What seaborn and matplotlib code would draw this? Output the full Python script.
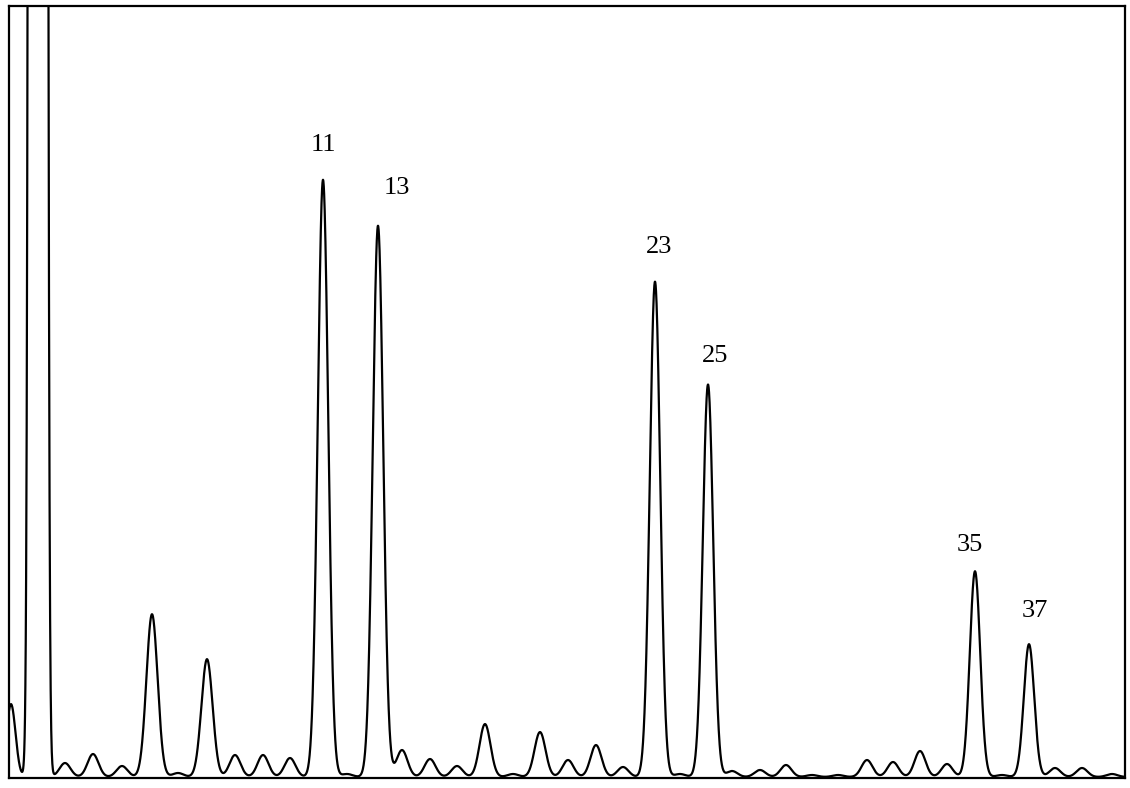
import pandas as pd
import seaborn as sns
import matplotlib.pyplot as plt
import numpy as np

# Peak table (position in chart units, height above baseline)
peak_pos = [11, 38, 65, 93, 122, 152, 178, 207, 235, 263, 290, 323, 347, 378,
            402, 430, 457, 485, 513, 540, 568, 596, 623, 655, 680, 708, 732, 760,
            786, 812, 838, 867, 893, 920, 947, 975, 1002, 1029, 1055, 1082, 1112]
peak_height = [73, 90000, 14, 23, 11, 163, 4, 118, 22, 22, 19, 598, 3, 552,
               27, 18, 11, 53, 3, 45, 17, 32, 10, 496, 3, 393, 6, 7,
               12, 2, 2, 17, 15, 26, 13, 206, 2, 133, 9, 9, 3]
peak_width = [4.5, 3.4, 5.5, 5.5, 5.5, 5.6, 5.5, 5.6, 5.5, 5.5, 5.5, 5.2, 5.5, 5.2,
              5.5, 5.5, 5.5, 5.5, 5.5, 5.5, 5.5, 5.5, 5.5, 5.2, 5.5, 5.2, 5.5, 5.5,
              5.5, 5.5, 5.5, 5.5, 5.5, 5.5, 5.5, 5.2, 5.5, 5.2, 5.5, 5.5, 5.5]

# labelled peaks: number and where its text sits
label_text = ['11', '13', '23', '25', '35', '37']
label_x = [323, 397, 659, 715, 970, 1035]
label_y = [627, 584, 525, 416, 226, 160]

x = np.linspace(9, 1125, 6000)
signal = np.zeros_like(x)
for p, h, w in zip(peak_pos, peak_height, peak_width):
    signal += h * np.exp(-0.5 * ((x - p) / w) ** 2)

df = pd.DataFrame({'time': x, 'signal': signal})

sns.set_style('white')
plt.rcParams['font.family'] = ['Liberation Serif', 'DejaVu Serif']

fig = plt.figure(figsize=(11.3, 7.88), dpi=100)
ax = fig.add_axes([9 / 1130, 10 / 788, 1116 / 1130, 772 / 788])

sns.lineplot(data=df, x='time', y='signal', ax=ax, color='black', linewidth=1.6)

for t, lx, ly in zip(label_text, label_x, label_y):
    ax.text(lx, ly, t, ha='center', va='baseline', fontsize=19, color='black')

ax.set_xlim(9, 1125)
ax.set_ylim(-1, 772)
ax.set_xlabel('')
ax.set_ylabel('')
ax.set_xticks([])
ax.set_yticks([])
for s in ax.spines.values():
    s.set_color('black')
    s.set_linewidth(1.6)

fig.savefig('out.png', dpi=100)
